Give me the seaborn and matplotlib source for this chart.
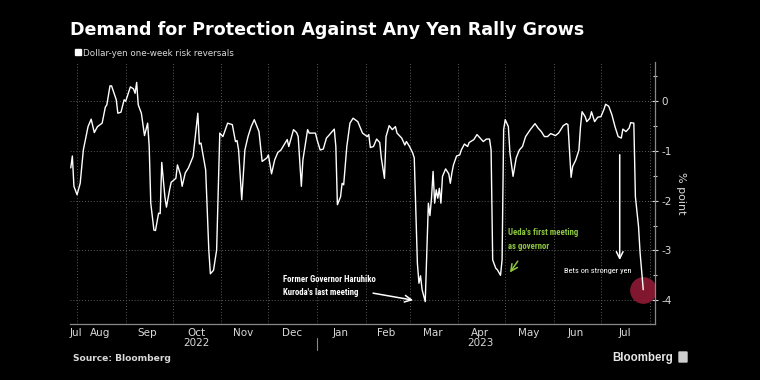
import matplotlib
matplotlib.use('Agg')
import matplotlib.pyplot as plt
import matplotlib.patches as mpatches
from matplotlib import font_manager
import seaborn as sns
import pandas as pd

# ── Data (USD/JPY 1-week risk reversals, % point) ────────────────────────────
dates = [
    '2022-07-28', '2022-07-29', '2022-07-30', '2022-08-01', '2022-08-03', '2022-08-05',
    '2022-08-08', '2022-08-10', '2022-08-12', '2022-08-14', '2022-08-17', '2022-08-19',
    '2022-08-20', '2022-08-22', '2022-08-23', '2022-08-26', '2022-08-27', '2022-08-29',
    '2022-08-31', '2022-09-01', '2022-09-04', '2022-09-06', '2022-09-07', '2022-09-08',
    '2022-09-09', '2022-09-11', '2022-09-13', '2022-09-15', '2022-09-16', '2022-09-17',
    '2022-09-19', '2022-09-20', '2022-09-22', '2022-09-23', '2022-09-24', '2022-09-26',
    '2022-09-27', '2022-09-29', '2022-09-30', '2022-10-03', '2022-10-04', '2022-10-06',
    '2022-10-07', '2022-10-09', '2022-10-11', '2022-10-14', '2022-10-17', '2022-10-18',
    '2022-10-19', '2022-10-22', '2022-10-24', '2022-10-25', '2022-10-27', '2022-10-29',
    '2022-10-31', '2022-11-02', '2022-11-05', '2022-11-08', '2022-11-10', '2022-11-11',
    '2022-11-12', '2022-11-14', '2022-11-16', '2022-11-18', '2022-11-20', '2022-11-22',
    '2022-11-25', '2022-11-27', '2022-11-30', '2022-12-01', '2022-12-03', '2022-12-05',
    '2022-12-07', '2022-12-09', '2022-12-13', '2022-12-14', '2022-12-17', '2022-12-19',
    '2022-12-20', '2022-12-22', '2022-12-23', '2022-12-26', '2022-12-27', '2022-12-31',
    '2023-01-01', '2023-01-03', '2023-01-05', '2023-01-07', '2023-01-09', '2023-01-12',
    '2023-01-13', '2023-01-14', '2023-01-16', '2023-01-17', '2023-01-18', '2023-01-20',
    '2023-01-22', '2023-01-24', '2023-01-27', '2023-01-30', '2023-02-02', '2023-02-03',
    '2023-02-04', '2023-02-06', '2023-02-08', '2023-02-10', '2023-02-11', '2023-02-13',
    '2023-02-14', '2023-02-16', '2023-02-18', '2023-02-20', '2023-02-21', '2023-02-24',
    '2023-02-26', '2023-02-27', '2023-03-01', '2023-03-03', '2023-03-04', '2023-03-06',
    '2023-03-07', '2023-03-08', '2023-03-09', '2023-03-11', '2023-03-13', '2023-03-14',
    '2023-03-15', '2023-03-16', '2023-03-17', '2023-03-18', '2023-03-19', '2023-03-20',
    '2023-03-21', '2023-03-22', '2023-03-24', '2023-03-26', '2023-03-27', '2023-03-28',
    '2023-03-29', '2023-03-31', '2023-04-02', '2023-04-03', '2023-04-05', '2023-04-07',
    '2023-04-08', '2023-04-11', '2023-04-13', '2023-04-15', '2023-04-17', '2023-04-19',
    '2023-04-21', '2023-04-22', '2023-04-23', '2023-04-25', '2023-04-26', '2023-04-28',
    '2023-04-29', '2023-04-30', '2023-05-01', '2023-05-03', '2023-05-04', '2023-05-06',
    '2023-05-08', '2023-05-10', '2023-05-12', '2023-05-14', '2023-05-17', '2023-05-20',
    '2023-05-22', '2023-05-24', '2023-05-26', '2023-05-28', '2023-05-30', '2023-06-02',
    '2023-06-04', '2023-06-06', '2023-06-07', '2023-06-09', '2023-06-10', '2023-06-12',
    '2023-06-13', '2023-06-15', '2023-06-17', '2023-06-18', '2023-06-19', '2023-06-21',
    '2023-06-22', '2023-06-24', '2023-06-25', '2023-06-27', '2023-06-29', '2023-07-01',
    '2023-07-03', '2023-07-04', '2023-07-06', '2023-07-08', '2023-07-10', '2023-07-12',
    '2023-07-14', '2023-07-15', '2023-07-17', '2023-07-19', '2023-07-20', '2023-07-22',
    '2023-07-23', '2023-07-25', '2023-07-26', '2023-07-28',
]
values = [
    -1.34, -1.10, -1.71, -1.88, -1.65, -0.98,
    -0.51, -0.36, -0.63, -0.51, -0.44, -0.12,
    -0.07, 0.31, 0.31, 0.03, -0.24, -0.22,
    0.03, 0.00, 0.29, 0.25, 0.16, 0.38,
    -0.07, -0.24, -0.69, -0.44, -0.91, -2.05,
    -2.59, -2.60, -2.25, -2.26, -1.23, -1.92,
    -2.13, -1.78, -1.63, -1.55, -1.28, -1.48,
    -1.71, -1.44, -1.34, -1.11, -0.24, -0.86,
    -0.84, -1.38, -2.99, -3.47, -3.40, -2.99,
    -0.64, -0.71, -0.44, -0.47, -0.81, -0.79,
    -0.98, -1.98, -0.98, -0.71, -0.51, -0.37,
    -0.61, -1.21, -1.14, -1.08, -1.46, -1.18,
    -1.03, -0.98, -0.77, -0.91, -0.57, -0.63,
    -0.71, -1.71, -1.18, -0.57, -0.64, -0.64,
    -0.77, -0.98, -0.96, -0.74, -0.67, -0.56,
    -0.91, -2.08, -1.92, -1.65, -1.68, -0.91,
    -0.44, -0.34, -0.41, -0.64, -0.71, -0.67,
    -0.93, -0.91, -0.76, -0.83, -1.14, -1.55,
    -0.71, -0.49, -0.57, -0.51, -0.64, -0.74,
    -0.88, -0.81, -0.91, -1.04, -1.14, -3.26,
    -3.66, -3.51, -3.79, -4.03, -2.05, -2.30,
    -1.95, -1.41, -2.05, -1.78, -1.95, -1.75,
    -2.05, -1.51, -1.36, -1.46, -1.65, -1.44,
    -1.28, -1.10, -1.08, -0.98, -0.86, -0.91,
    -0.83, -0.77, -0.67, -0.74, -0.81, -0.76,
    -0.76, -0.98, -3.19, -3.36, -3.39, -3.50,
    -3.19, -0.57, -0.37, -0.51, -1.04, -1.51,
    -1.14, -0.98, -0.91, -0.71, -0.57, -0.45,
    -0.54, -0.61, -0.71, -0.71, -0.65, -0.69,
    -0.64, -0.54, -0.49, -0.45, -0.47, -1.53,
    -1.31, -1.18, -0.98, -0.51, -0.21, -0.31,
    -0.41, -0.34, -0.21, -0.41, -0.32, -0.31,
    -0.16, -0.06, -0.10, -0.27, -0.51, -0.71,
    -0.74, -0.56, -0.61, -0.54, -0.43, -0.44,
    -1.92, -2.52, -3.05, -3.79,
]

month_starts = pd.date_range('2022-08-01', '2023-08-01', freq='MS')
month_labels = ['Jul', 'Aug', 'Sep', 'Oct', 'Nov', 'Dec', 'Jan',
                'Feb', 'Mar', 'Apr', 'May', 'Jun', 'Jul']
month_label_dates = ['2022-07-31', '2022-08-16', '2022-09-15', '2022-10-16',
                     '2022-11-15', '2022-12-16', '2023-01-16', '2023-02-14',
                     '2023-03-16', '2023-04-15', '2023-05-16', '2023-06-15',
                     '2023-07-16']
year_labels = ['2022', '2023']
year_label_dates = ['2022-10-16', '2023-04-15']
y_ticks = [0, -1, -2, -3, -4]

df = pd.DataFrame({'date': pd.to_datetime(dates), 'value': values})

# ── Style ────────────────────────────────────────────────────────────────────
sns.set_theme(style='dark', rc={
    'figure.facecolor': 'black', 'axes.facecolor': 'black',
    'text.color': 'white', 'axes.labelcolor': '#d9d9d9',
    'xtick.color': '#d9d9d9', 'ytick.color': '#d9d9d9',
})
plt.rcParams['font.family'] = ['DejaVu Sans']

# pick a condensed face for the annotations if one is installed
installed = {f.name for f in font_manager.fontManager.ttflist}
narrow_font, narrow_scale = 'Liberation Sans', 0.82
for name in ['Liberation Sans Narrow', 'DejaVu Sans Condensed', 'Roboto Condensed']:
    if name in installed:
        narrow_font, narrow_scale = name, 1.0
        break

fig = plt.figure(figsize=(7.6, 3.8), dpi=100)
ax = fig.add_axes([70 / 760, 1 - 324 / 380, 585 / 760, 262 / 380])

sns.lineplot(data=df, x='date', y='value', color='white', lw=1.0,
             estimator=None, ax=ax, zorder=3)
ax.scatter(df['date'].iloc[-1], df['value'].iloc[-1], s=370,
           color='#8f1a35', alpha=0.9, lw=0, zorder=2)

ax.set_xlim(pd.Timestamp('2022-07-27 12:00'), pd.Timestamp('2023-08-04 12:00'))
ax.set_ylim(-4.48, 0.79)

# x axis: month boundaries as ticks + grid, labels mid-month
ax.set_xticks(month_starts)
ax.set_xticklabels([])
ax.set_xticks(pd.to_datetime(month_label_dates), minor=True)
ax.set_xticklabels(month_labels, minor=True)
ax.tick_params(axis='x', which='major', direction='in', length=4,
               color='#888888', width=0.8)
ax.tick_params(axis='x', which='minor', length=0, pad=3, labelsize=7.5)
for d, lab in zip(year_label_dates, year_labels):
    ax.text(pd.Timestamp(d), -0.073, lab, transform=ax.get_xaxis_transform(),
            ha='center', va='center', fontsize=7.5, color='#d9d9d9')
ax.plot([pd.Timestamp('2023-01-01')] * 2, [-0.053, -0.10], color='#888888',
        lw=0.8, transform=ax.get_xaxis_transform(), clip_on=False)

# y axis on the right
ax.yaxis.tick_right()
ax.yaxis.set_label_position('right')
ax.set_yticks(y_ticks)
ax.set_yticklabels([str(t) for t in y_ticks])
ax.set_yticks([0.5, -0.5, -1.5, -2.5, -3.5], minor=True)
ax.tick_params(axis='y', which='both', direction='inout', length=5,
               color='#d9d9d9', width=0.8, labelsize=7.5, pad=2)
ax.tick_params(axis='y', which='minor', length=3)
ax.set_ylabel('% point', rotation=270, fontsize=8, labelpad=10)
ax.set_xlabel('')

ax.grid(True, which='major', ls=(0, (1, 2)), color='#5a5a5a', lw=0.7)
for s in ['top', 'left']:
    ax.spines[s].set_visible(False)
for s in ['bottom', 'right']:
    ax.spines[s].set_color('#888888')
    ax.spines[s].set_linewidth(0.9)

# ── Annotations ──────────────────────────────────────────────────────────────
ann_size = 6.3 * narrow_scale
ax.text(pd.Timestamp('2022-12-10'), -3.72,
        "Former Governor Haruhiko\nKuroda's last meeting", family=narrow_font,
        fontweight='bold', fontsize=ann_size, color='white', va='center', ha='left',
        linespacing=1.6)
ax.annotate('', xy=(pd.Timestamp('2023-03-05'), -4.01),
            xytext=(pd.Timestamp('2023-02-04'), -3.85),
            arrowprops=dict(arrowstyle='->', color='white', lw=1.1))

ax.text(pd.Timestamp('2023-05-03'), -2.78, "Ueda's first meeting\nas governor",
        family=narrow_font, fontweight='bold', fontsize=ann_size, color='#8cc63f',
        va='center', ha='left', linespacing=1.6)
ax.annotate('', xy=(pd.Timestamp('2023-05-03'), -3.49),
            xytext=(pd.Timestamp('2023-05-10'), -3.17),
            arrowprops=dict(arrowstyle='->', color='#8cc63f', lw=1.1))

ax.text(pd.Timestamp('2023-06-29'), -3.41, 'Bets on stronger yen', family=narrow_font,
        fontsize=6.0 * narrow_scale, color='white', va='center', ha='center')
ax.annotate('', xy=(pd.Timestamp('2023-07-13'), -3.25),
            xytext=(pd.Timestamp('2023-07-13'), -1.02),
            arrowprops=dict(arrowstyle='->', color='white', lw=1.1))

# ── Titles, legend, footer ───────────────────────────────────────────────────
fig.text(70 / 760, 1 - 35 / 380, 'Demand for Protection Against Any Yen Rally Grows',
         fontsize=12.6, fontweight='bold', color='white', va='baseline')
fig.patches.append(mpatches.Rectangle((75 / 760, 1 - 55 / 380), 6 / 760, 6 / 380,
                                      transform=fig.transFigure, color='white'))
fig.text(83 / 760, 1 - 55.5 / 380, 'Dollar-yen one-week risk reversals',
         fontsize=6.3, color='#d9d9d9', va='baseline')
fig.text(73 / 760, 1 - 361 / 380, 'Source: Bloomberg', fontsize=6.6,
         fontweight='bold', color='#d9d9d9', va='baseline')
fig.text(612 / 760, 1 - 361 / 380, 'Bloomberg', fontsize=8.3, family='Liberation Sans',
         fontweight='bold', color='#e6e6e6', va='baseline')
fig.patches.append(mpatches.FancyBboxPatch((679 / 760, 1 - 362 / 380), 8 / 760, 10 / 380,
                                           boxstyle='round,pad=0', transform=fig.transFigure,
                                           color='#cfcfcf'))

fig.savefig('out.png', dpi=100, facecolor='black')
